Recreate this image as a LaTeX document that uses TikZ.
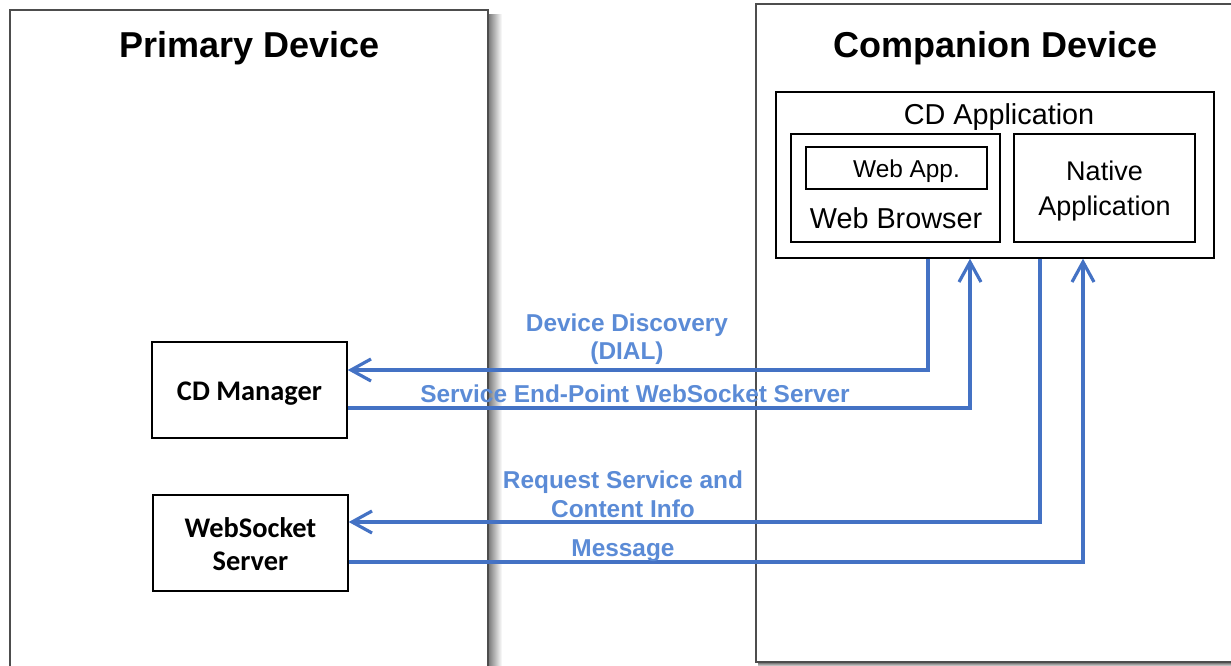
\documentclass[tikz,border=0pt]{standalone}
\usepackage{fontspec}
\setmainfont{Liberation Sans}
\newfontfamily\calibrifont{Carlito}
\usepackage{tikz}
\usetikzlibrary{positioning,calc,arrows.meta}
\definecolor{flowblue}{HTML}{4472C4}
\definecolor{labelblue}{HTML}{5B8BD6}
\definecolor{edgegray}{HTML}{4D4D4D}
\tikzset{
    device/.style={
        rectangle,
        draw=edgegray, line width=1pt,
        inner sep=0pt
    },
    appbox/.style={
        rectangle,
        draw=black, line width=0.7pt,
        inner sep=0pt
    },
    devtitle/.style={font={\fontsize{18pt}{21pt}\selectfont\bfseries}},
    applabel/.style={
        align=center,
        font={\fontsize{14.4pt}{17.5pt}\selectfont}
    },
    manager/.style={
        appbox,
        minimum width=97.5pt,
        minimum height=48pt
    },
    managerlabel/.style={
        align=center,
        font={\calibrifont\fontsize{14.2pt}{16.5pt}\selectfont\bfseries}
    },
    flow/.style={draw=flowblue, line width=1.6pt, -{Straight Barb[length=10pt,width=11pt]}},
    flowlabel/.style={
        text=labelblue,
        align=center,
        font={\fontsize{12.2pt}{14.3pt}\selectfont\bfseries}
    },
}
\begin{document}
\begin{tikzpicture}[x=0.5pt, y=-0.5pt]
\useasboundingbox (0,0) rectangle (1231,665);
\clip (0,0) rectangle (1231,665);

% devices
\shade [left color=black!50, right color=white] (489,14) rectangle (502,665);
\node [device, minimum width=239pt, minimum height=345pt] (primary) at (249,355) {};
\node [devtitle] (primary-title) at (250,48) {Primary Device};

\shade [top color=black!50, bottom color=white] (758,663) rectangle (1231,667);
\node [device, minimum width=252pt, minimum height=329pt] (companion) at (1008,333) {};
\node [devtitle] (companion-title) at (996,48) {Companion Device};

% companion side
\node [appbox, minimum width=219pt, minimum height=83pt] (cdapp) at (995,175) {};
\node [applabel] (cdapp-label) at (999,117) {CD Application};
\node [appbox, minimum width=104.5pt, minimum height=54pt] (browser) at (895.5,188) {};
\node [appbox, minimum width=90.5pt, minimum height=21pt] (webapp) at (896.5,168) {};
\node [applabel, font={\fontsize{12.2pt}{14pt}\selectfont}] (webapp-label) at (906.5,171) {Web App.};
\node [applabel] (browser-label) at (896,218) {Web Browser};
\node [appbox, minimum width=90.5pt, minimum height=54pt] (native) at (1104.5,188) {};
\node [applabel, font={\fontsize{13.5pt}{17.5pt}\selectfont}] (native-label)
  at ($(native)+(0,3.5)$) {Native\\Application};

% primary side
\node [manager] (cdmgr) at (249.5,390) {};
\node [managerlabel] (cdmgr-label) at ($(cdmgr)+(0,4)$) {CD Manager};
\node [manager] (wsserver) at (250.5,543) {};
\node [managerlabel] (wsserver-label) at ($(wsserver)+(0,1)$) {WebSocket\\Server};

\foreach \x/\y/\n in {928/370/discovery, 970/408/endpoint, 1040/522/request, 1083/562/message}
  \coordinate (\n) at (\x,\y);

\draw [flow] (discovery |- cdapp.south) |- (cdmgr.east |- discovery);
\draw [flow] (cdmgr.east |- endpoint) -| (endpoint |- cdapp.south);
\draw [flow] (request |- cdapp.south) |- (wsserver.east |- request);
\draw [flow] (wsserver.east |- message) -| (message |- cdapp.south);

\node [flowlabel] (discovery-label) at (627,339) {Device Discovery\\(DIAL)};
\node [flowlabel] (endpoint-label) at (635,394) {Service End-Point WebSocket Server};
\node [flowlabel] (request-label) at (623,494) {Request Service and\\Content Info};
\node [flowlabel] (message-label) at (623,551) {Message};

\end{tikzpicture}
\end{document}
